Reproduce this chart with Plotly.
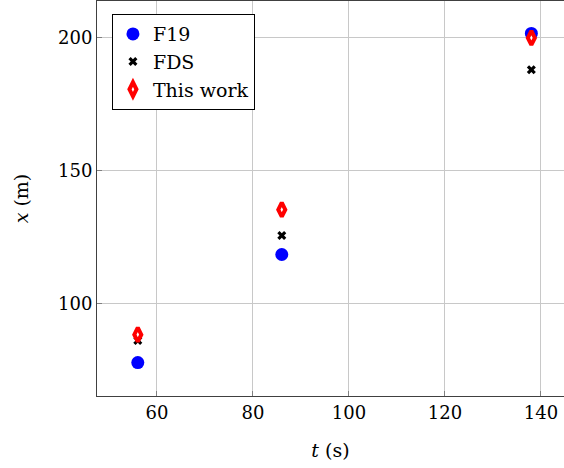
import plotly.graph_objects as go

t_vals = [56, 86, 138]
f19 = [77.7, 118.4, 201.7]
fds = [86.0, 125.6, 188.0]
this_work = [88.2, 135.3, 200.0]

x_ticks = [60, 80, 100, 120, 140]
y_ticks = [100, 150, 200]

FONT = "DejaVu Serif"

fig = go.Figure()
fig.add_trace(go.Scatter(x=t_vals, y=f19, mode="markers", name="F19",
                         marker=dict(symbol="circle", size=13, color="#0000ff", line=dict(width=0))))
fig.add_trace(go.Scatter(x=t_vals, y=fds, mode="markers", name="FDS",
                         marker=dict(symbol="x", size=8, color="black", line=dict(width=0))))
fig.add_trace(go.Scatter(x=t_vals, y=this_work, mode="markers", name="This work",
                         marker=dict(symbol="diamond-tall", size=10, color="white",
                                     line=dict(width=4, color="#ff0000"))))

fig.update_layout(
    width=564, height=468,
    margin=dict(l=97, r=0, t=1, b=72),
    plot_bgcolor="white", paper_bgcolor="white",
    font=dict(family=FONT, size=18, color="black"),
    showlegend=True,
    legend=dict(x=0.032, y=0.967, xanchor="left", yanchor="top",
                bordercolor="black", borderwidth=1, bgcolor="white",
                font=dict(family=FONT, size=19, color="black"), itemwidth=30,
                tracegroupgap=0),
)
fig.update_xaxes(range=[47.5, 144.8], tickvals=x_ticks, ticktext=[str(v) for v in x_ticks],
                 showgrid=True, gridcolor="#c8c8c8", gridwidth=1,
                 showline=True, linecolor="#404040", linewidth=1, mirror=True,
                 ticks="inside", ticklen=5, tickcolor="#808080",
                 zeroline=False,
                 title=dict(text="<i>t</i> (s)", font=dict(family=FONT, size=19), standoff=22),
                 tickfont=dict(family=FONT, size=18))
fig.update_yaxes(range=[65.1, 213.9], tickvals=y_ticks, ticktext=[str(v) for v in y_ticks],
                 showgrid=True, gridcolor="#c8c8c8", gridwidth=1,
                 showline=True, linecolor="#404040", linewidth=1, mirror=False,
                 ticks="inside", ticklen=5, tickcolor="#808080",
                 zeroline=False,
                 title=dict(text="<i>x</i> (m)", font=dict(family=FONT, size=19), standoff=24),
                 tickfont=dict(family=FONT, size=18))

fig.write_html("out.html")
